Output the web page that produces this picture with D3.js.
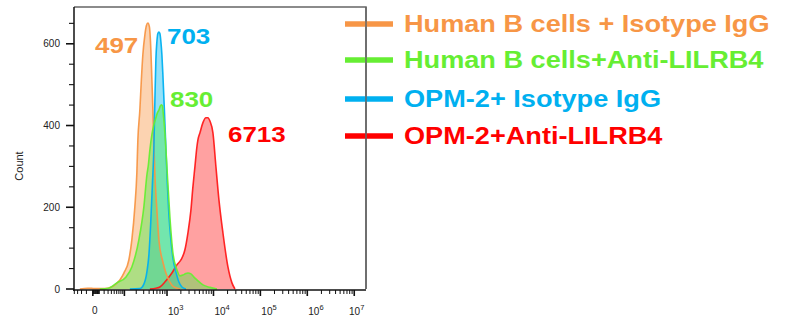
<!DOCTYPE html>
<html><head><meta charset="utf-8">
<script src="https://cdn.jsdelivr.net/npm/d3@7"></script>
<style>html,body{margin:0;padding:0;background:#fff;}svg{display:block;}</style>
</head><body><svg id="c" width="786" height="322"></svg>
<script>
// ---- data (fluorescence intensity, event count) ----
const orangeX = [-24,-7.5,2.8,21.7,38.3,56.5,74.6,96.7,131,156,185,207,219,244,265,287,320,346,375,405,438,462,487,512,540,598,663,812,945,1156,1413,1906];
const orangeY = [0,2,1,1,4,12,22,39,71,120,201,284,365,438,512,573,622,644,651,642,585,512,438,353,279,193,120,66,39,17,5,0];
const blueX = [139,244,303,356,395,438,474,512,540,568,598,629,663,697,734,772,812,876,945,1019,1100,1216,1344,1561,1813,2105,2568];
const blueY = [0,1,12,42,83,169,255,345,463,561,605,625,629,625,605,573,524,438,345,255,181,120,76,42,17,5,0];
const greenX = [11,32,61,109,156,231,303,356,385,416,462,512,568,613,663,715,752,792,833,899,994,1156,1344,1641,1906,2213,2568,2836,3291,3816,4650,5954,8400,11860];
const greenY = [0,2,15,29,54,120,201,279,304,340,377,402,419,431,438,448,451,448,426,382,299,176,88,47,32,34,38,39,37,29,20,10,4,0];
const redX = [416,568,697,899,1278,1641,2003,2444,2836,3291,3632,4010,4428,4650,5133,5954,6899,7614,8400,9739,11286,13087,15925,20358,24786,28728];
const redY = [0,2,5,17,39,59,71,96,137,193,250,299,348,365,382,407,419,419,411,382,299,218,137,54,15,0];

const seriesNames = ["Human B cells + Isotype IgG","Human B cells+Anti-LILRB4","OPM-2+ Isotype IgG","OPM-2+Anti-LILRB4"];
const seriesMFI = ["497","830","703","6713"];
const yTicks = [0,200,400,600];
const xMajor = [0,1e3,1e4,1e5,1e6,1e7];
const xMajorLabels = ["0","3","4","5","6","7"];

// ---- layout ----
const svg = d3.select("#c");
const L=74, R=366, T=7, B=289;
const x = d3.scaleSymlog().constant(27).domain([-41,1.78e7]).range([L,R]);
const y = d3.scaleLinear().domain([0,690]).range([B,T]);

const colors = {orange:"#F79646", green:"#66EE33", blue:"#00B0F0", red:"#FF1A1A"};
const fills  = {orange:"#F79646", green:"#44EE44", blue:"#00B8F0", red:"#FF2020"};

const series = [
  {k:"red",   xs:redX,    ys:redY},
  {k:"orange",xs:orangeX, ys:orangeY},
  {k:"blue",  xs:blueX,   ys:blueY},
  {k:"green", xs:greenX,  ys:greenY}
];
const area = d3.area().x(d=>x(d[0])).y0(y(0)).y1(d=>y(d[1])).curve(d3.curveMonotoneX);
const line = d3.line().x(d=>x(d[0])).y(d=>y(d[1])).curve(d3.curveMonotoneX);
const gP = svg.append("g");
series.forEach(s=>{
  const pts = s.xs.map((v,i)=>[v,s.ys[i]]);
  gP.append("path").attr("d",area(pts)).attr("fill",fills[s.k]).attr("fill-opacity",0.42);
});
series.forEach(s=>{
  const pts = s.xs.map((v,i)=>[v,s.ys[i]]);
  gP.append("path").attr("d",line(pts)).attr("fill","none").attr("stroke",colors[s.k]).attr("stroke-width",1.6).attr("stroke-opacity",0.95);
});

// frame
svg.append("path").attr("d",`M${L},${T}H${R}V${B}`).attr("fill","none").attr("stroke","#666").attr("stroke-width",1.5);

// y axis
const yMinor = d3.range(0,700,50);
const gy = svg.append("g").attr("stroke","#111");
gy.append("line").attr("x1",L).attr("x2",L).attr("y1",T).attr("y2",B+2).attr("stroke-width",1.5);
yMinor.forEach(v=>{
  const maj = yTicks.includes(v);
  gy.append("line").attr("x1",L-(maj?8:5)).attr("x2",L).attr("y1",y(v)).attr("y2",y(v)).attr("stroke-width",maj?1.6:1.1);
});
yTicks.forEach(v=>{
  svg.append("text").attr("x",60).attr("y",y(v)+3.5).attr("text-anchor","end")
    .attr("font-family","Liberation Sans, Arial, sans-serif").attr("font-size",10).attr("fill","#222").text(v);
});
svg.append("text").attr("transform",`translate(23,${(T+B)/2+18}) rotate(-90)`).attr("text-anchor","middle")
  .attr("font-family","Liberation Sans, Arial, sans-serif").attr("font-size",11).attr("fill","#222").text("Count");

// x axis
const gx = svg.append("g").attr("stroke","#111");
gx.append("line").attr("x1",L-1).attr("x2",R).attr("y1",B+1).attr("y2",B+1).attr("stroke-width",1.5);
const xMinor = [];
[-10,-20,-30,-40].forEach(v=>xMinor.push(v));
for(let e=1;e<=6;e++){ for(let m=1;m<=9;m++){ xMinor.push(m*Math.pow(10,e)); } }
for(let m=1;m<=9;m++) xMinor.push(m);
xMinor.forEach(v=>{
  const maj = xMajor.includes(v) || v===100;
  gx.append("line").attr("x1",x(v)).attr("x2",x(v)).attr("y1",B+1).attr("y2",B+1+(maj?6:4)).attr("stroke-width",maj?1.6:1);
});
gx.append("line").attr("x1",x(1e7)).attr("x2",x(1e7)).attr("y1",B+1).attr("y2",B+7).attr("stroke-width",1.6);
gx.append("line").attr("x1",x(0)).attr("x2",x(0)).attr("y1",B+1).attr("y2",B+7).attr("stroke-width",1.6);
xMajor.forEach((v,i)=>{
  const t = svg.append("text").attr("font-family","Liberation Sans, Arial, sans-serif").attr("font-size",10).attr("fill","#222");
  if(i===0){
    t.attr("x",x(v)+2).attr("y",314).attr("text-anchor","middle").text(xMajorLabels[i]);
  } else {
    const lx = Math.min(x(v)+1, R-17);
    t.attr("x",lx).attr("y",315);
    t.append("tspan").text("10");
    t.append("tspan").attr("dy",-5).attr("font-size",7.5).text(xMajorLabels[i]);
  }
});

// MFI annotations
const ann = [
  {t:seriesMFI[0], c:colors.orange, px:95, py:53},
  {t:seriesMFI[2], c:colors.blue,   px:167, py:44},
  {t:seriesMFI[1], c:colors.green,  px:170, py:107},
  {t:seriesMFI[3], c:"#FF0000",     px:228, py:142}
];
ann.forEach(a=>{
  svg.append("text").attr("transform",`translate(${a.px},${a.py}) scale(1.18,1)`)
    .attr("font-family","Liberation Sans, Arial, sans-serif").attr("font-weight","bold").attr("font-size",22)
    .attr("fill",a.c).text(a.t);
});

// legend
const legColors = [colors.orange, colors.green, colors.blue, "#FF0000"];
const legY = [24,60,99,136];
seriesNames.forEach((n,i)=>{
  svg.append("line").attr("x1",345).attr("x2",393).attr("y1",legY[i]).attr("y2",legY[i])
    .attr("stroke",legColors[i]).attr("stroke-width",5.5);
  svg.append("text").attr("transform",`translate(404,${legY[i]+8}) scale(1.18,1)`)
    .attr("font-family","Liberation Sans, Arial, sans-serif").attr("font-weight","bold").attr("font-size",23)
    .attr("fill",legColors[i]).text(n);
});
svg.append("line").attr("x1",R).attr("x2",R).attr("y1",T).attr("y2",B).attr("stroke","#666").attr("stroke-width",1.5);
</script></body></html>
